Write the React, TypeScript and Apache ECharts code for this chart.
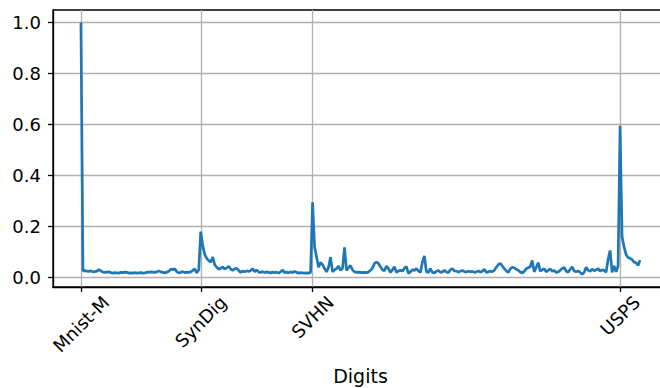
import React, { useEffect, useRef } from "react";
import * as echarts from "echarts";

// Score per sample
const values = [
  1.0, 0.026, 0.027, 0.025, 0.024, 0.026, 0.022, 0.023, 0.025, 0.031,
  0.026, 0.021, 0.02, 0.021, 0.022, 0.019, 0.017, 0.019, 0.018, 0.017,
  0.02, 0.019, 0.021, 0.02, 0.017, 0.018, 0.017, 0.019, 0.017, 0.018,
  0.019, 0.017, 0.018, 0.02, 0.021, 0.022, 0.021, 0.02, 0.022, 0.026,
  0.022, 0.02, 0.018, 0.021, 0.024, 0.033, 0.03, 0.034, 0.022, 0.018,
  0.02, 0.023, 0.019, 0.021, 0.02, 0.022, 0.027, 0.034, 0.018, 0.03,
  0.18, 0.125, 0.09, 0.075, 0.066, 0.06, 0.08, 0.05, 0.04, 0.032,
  0.036, 0.041, 0.033, 0.038, 0.044, 0.033, 0.028, 0.034, 0.036, 0.027,
  0.02, 0.025, 0.022, 0.026, 0.023, 0.027, 0.034, 0.022, 0.03, 0.021,
  0.02, 0.023, 0.019, 0.022, 0.02, 0.018, 0.021, 0.019, 0.021, 0.017,
  0.022, 0.029, 0.019, 0.021, 0.018, 0.022, 0.019, 0.024, 0.02, 0.017,
  0.019, 0.018, 0.017, 0.018, 0.017, 0.02, 0.295, 0.12, 0.08, 0.04,
  0.059, 0.05, 0.035, 0.022, 0.04, 0.08, 0.022, 0.03, 0.035, 0.045,
  0.028, 0.036, 0.118, 0.028, 0.038, 0.047, 0.03, 0.022, 0.02, 0.021,
  0.02, 0.019, 0.02, 0.019, 0.021, 0.028, 0.037, 0.055, 0.06, 0.055,
  0.042, 0.03, 0.026, 0.045, 0.035, 0.02, 0.03, 0.042, 0.02, 0.026,
  0.028, 0.025, 0.036, 0.043, 0.016, 0.022, 0.031, 0.027, 0.035, 0.026,
  0.02, 0.06, 0.085, 0.022, 0.02, 0.035, 0.02, 0.018, 0.024, 0.028,
  0.02, 0.022, 0.028, 0.022, 0.018, 0.03, 0.035, 0.026, 0.025, 0.021,
  0.024, 0.028, 0.023, 0.021, 0.025, 0.022, 0.024, 0.02, 0.022, 0.026,
  0.021, 0.024, 0.032, 0.02, 0.022, 0.025, 0.023, 0.028, 0.04, 0.05,
  0.055, 0.045, 0.035, 0.026, 0.02, 0.034, 0.04, 0.038, 0.032, 0.028,
  0.021, 0.018, 0.024, 0.034, 0.038, 0.042, 0.067, 0.022, 0.04, 0.058,
  0.025, 0.03, 0.034, 0.022, 0.028, 0.034, 0.025, 0.027, 0.02, 0.022,
  0.028, 0.035, 0.04, 0.025, 0.02, 0.032, 0.042, 0.025, 0.022, 0.026,
  0.02, 0.012, 0.02, 0.04, 0.028, 0.024, 0.033, 0.026, 0.03, 0.035,
  0.025, 0.03, 0.028, 0.02, 0.07, 0.106, 0.02, 0.045, 0.022, 0.045,
  0.595, 0.16, 0.12, 0.09, 0.078, 0.075, 0.07, 0.06, 0.058, 0.047,
  0.068,
];

// Domain boundaries (sample index) and their tick labels
const tickPositions = [0, 60, 116, 270];
const tickLabels = ["Mnist-M", "SynDig", "SVHN", "USPS"];
const yTicks = [0, 0.2, 0.4, 0.6, 0.8, 1.0];
const xAxisTitle = "Digits";

export default function App() {
  const ref = useRef<HTMLDivElement>(null);

  useEffect(() => {
    if (!ref.current) return;
    const chart = echarts.init(ref.current, null, { renderer: "svg" });

    const FONT = "DejaVu Sans";
    const fs = 18;
    const lh = 20;
    const canvas = document.createElement("canvas");
    const ctx = canvas.getContext("2d")!;
    ctx.font = `${fs}px "${FONT}"`;

    const gridLeft = 53;
    const gridTop = 10;
    const gridHeight = 277;
    const axisY = gridTop + gridHeight;
    const labelTop = 292;
    const margin = 0;

    const n = values.length - 1;
    const xMin = -0.05 * n;
    const xMax = 1.05 * n;
    const yDataMin = Math.min(...values);
    const yDataMax = Math.max(...values);
    const ySpan = yDataMax - yDataMin;
    const yMin = yDataMin - 0.05 * ySpan;
    const yMax = yDataMax + 0.05 * ySpan;

    const rich: Record<string, any> = {};
    tickLabels.forEach((lab, k) => {
      const w = ctx.measureText(lab).width;
      const p = Math.SQRT2 * (labelTop - axisY - margin + 0.35355 * (w + lh));
      rich["l" + k] = {
        fontFamily: FONT,
        fontSize: fs,
        lineHeight: lh,
        color: "#000",
        padding: [p, p, 0, 0],
      };
    });

    chart.setOption({
      animation: false,
      backgroundColor: "#fff",
      grid: {
        left: gridLeft,
        top: gridTop,
        width: 615,
        height: gridHeight,
        outerBoundsMode: "none",
        containLabel: false,
        show: true,
        borderColor: "#000",
        borderWidth: 1.3,
        backgroundColor: "transparent",
      },
      xAxis: {
        type: "value",
        min: xMin,
        max: xMax,
        name: xAxisTitle,
        nameLocation: "middle",
        nameGap: 79,
        nameTextStyle: { fontFamily: FONT, fontSize: 19, color: "#000" },
        axisLine: { show: true, onZero: false, lineStyle: { color: "#000", width: 1.3 } },
        axisTick: {
          show: true,
          customValues: tickPositions,
          length: 5,
          lineStyle: { color: "#000", width: 1.3 },
        },
        splitLine: { show: true, lineStyle: { color: "#b0b0b0", width: 1.3 } },
        axisLabel: {
          customValues: tickPositions,
          rotate: 45,
          margin: margin,
          align: "center",
          verticalAlign: "middle",
          formatter: (v: number) => {
            const k = tickPositions.indexOf(Math.round(v));
            return k >= 0 ? `{l${k}|${tickLabels[k]}}` : "";
          },
          rich,
        },
      },
      yAxis: {
        type: "value",
        min: yMin,
        max: yMax,
        axisLine: { show: true, onZero: false, lineStyle: { color: "#000", width: 1.3 } },
        axisTick: {
          show: true,
          customValues: yTicks,
          length: 5,
          lineStyle: { color: "#000", width: 1.3 },
        },
        splitLine: { show: true, lineStyle: { color: "#b0b0b0", width: 1.3 } },
        axisLabel: {
          customValues: yTicks,
          margin: 12,
          fontFamily: FONT,
          fontSize: fs,
          color: "#000",
          formatter: (v: number) => v.toFixed(1),
        },
      },
      series: [
        {
          type: "line",
          data: values.map((v, i) => [i, v]),
          showSymbol: false,
          lineStyle: { color: "#1f77b4", width: 2.7 },
          itemStyle: { color: "#1f77b4" },
        },
      ],
    });

    return () => chart.dispose();
  }, []);

  return (
    <div
      ref={ref}
      style={{ position: "absolute", left: 0, top: 0, width: 660, height: 388 }}
    />
  );
}
